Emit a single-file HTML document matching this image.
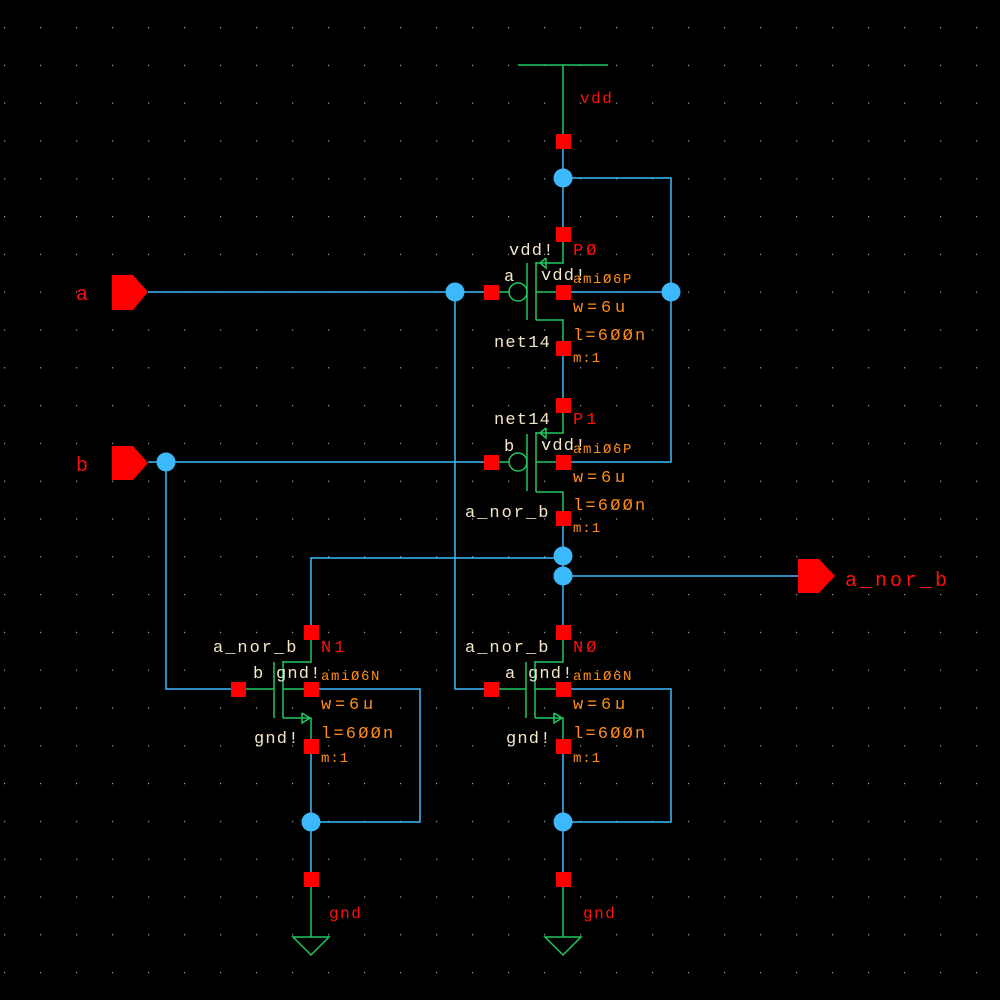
<!DOCTYPE html>
<html><head><meta charset="utf-8"><style>
html,body{margin:0;padding:0;background:#000;}
svg{display:block}
text{font-family:"Liberation Mono",monospace;}
.w{fill:#f5e6c8;font-size:17px;letter-spacing:1.2px}
.o{fill:#ff8c1a}
.r{fill:#ff1010}
</style></head><body>
<svg width="1000" height="1000" viewBox="0 0 1000 1000" xmlns="http://www.w3.org/2000/svg">
<defs>
<pattern id="g" x="4" y="27" width="36" height="37.8" patternUnits="userSpaceOnUse">
<rect x="0" y="0" width="1.2" height="1.2" fill="#9aa0b0"/>
</pattern>
</defs>
<rect width="1000" height="1000" fill="#000"/>
<rect width="1000" height="1000" fill="url(#g)"/>

<!-- blue wires -->
<g stroke="#3cb9fc" stroke-width="1.5" fill="none">
<line x1="563" y1="141" x2="563" y2="234"/>
<polyline points="563,178 671,178 671,462 563,462"/>
<line x1="563" y1="292" x2="671" y2="292"/>
<line x1="563" y1="349" x2="563" y2="405"/>
<line x1="148" y1="292" x2="491" y2="292"/>
<line x1="148" y1="462" x2="491" y2="462"/>
<polyline points="455,292 455,689 491,689"/>
<polyline points="166,462 166,689 238,689"/>
<line x1="563" y1="518" x2="563" y2="632"/>
<polyline points="311,632 311,558 563,558"/>
<line x1="563" y1="576" x2="800" y2="576"/>
<polyline points="311,689 420,689 420,822 311,822"/>
<polyline points="563,689 671,689 671,822 563,822"/>
<line x1="311" y1="746" x2="311" y2="879"/>
<line x1="563" y1="746" x2="563" y2="879"/>
</g>

<!-- green -->
<g stroke="#1fc860" stroke-width="1.5" fill="none">
<line x1="518" y1="65" x2="608" y2="65"/>
<line x1="563" y1="65" x2="563" y2="141"/>
<!-- P0 -->
<polyline points="563,234 563,263 536,263"/>
<line x1="536" y1="262" x2="536" y2="320"/>
<line x1="527" y1="263" x2="527" y2="320"/>
<polyline points="536,320 563,320 563,349"/>
<line x1="536" y1="292" x2="563" y2="292"/>
<line x1="491" y1="292" x2="509" y2="292"/>
<circle cx="518" cy="292" r="9"/>
<polyline points="546,258 540,263 546,268 546,258"/>
<!-- P1 -->
<polyline points="563,405 563,433 536,433"/>
<line x1="536" y1="432" x2="536" y2="492"/>
<line x1="527" y1="434" x2="527" y2="491"/>
<polyline points="536,492 563,492 563,518"/>
<line x1="536" y1="462" x2="563" y2="462"/>
<line x1="491" y1="462" x2="509" y2="462"/>
<circle cx="518" cy="462" r="9"/>
<polyline points="546,428 540,433 546,438 546,428"/>
<!-- N1 -->
<polyline points="311,632 311,662 283,662"/>
<line x1="283" y1="661" x2="283" y2="718"/>
<line x1="274" y1="662" x2="274" y2="718"/>
<polyline points="283,718 311,718 311,746"/>
<line x1="283" y1="689" x2="311" y2="689"/>
<line x1="238" y1="689" x2="274" y2="689"/>
<polyline points="302,713 310,718 302,723 302,713"/>
<!-- N0 -->
<polyline points="563,632 563,662 535,662"/>
<line x1="535" y1="661" x2="535" y2="718"/>
<line x1="526" y1="662" x2="526" y2="718"/>
<polyline points="535,718 563,718 563,746"/>
<line x1="535" y1="689" x2="563" y2="689"/>
<line x1="491" y1="689" x2="526" y2="689"/>
<polyline points="554,713 562,718 554,723 554,713"/>
<!-- gnd -->
<line x1="311" y1="879" x2="311" y2="937"/>
<polygon points="293,937 329,937 311,955"/>
<line x1="563" y1="879" x2="563" y2="937"/>
<polygon points="545,937 581,937 563,955"/>
</g>

<!-- dots -->
<g fill="#3cb9fc">
<circle cx="563" cy="178" r="9.5"/>
<circle cx="671" cy="292" r="9.5"/>
<circle cx="455" cy="292" r="9.5"/>
<circle cx="166" cy="462" r="9.5"/>
<circle cx="563" cy="556" r="9.5"/>
<circle cx="563" cy="576" r="9.5"/>
<circle cx="311" cy="822" r="9.5"/>
<circle cx="563" cy="822" r="9.5"/>
</g>

<!-- red squares -->
<g fill="#ff0000">
<rect x="556" y="134" width="15" height="15"/>
<rect x="556" y="227" width="15" height="15"/>
<rect x="556" y="285" width="15" height="15"/>
<rect x="556" y="341" width="15" height="15"/>
<rect x="484" y="285" width="15" height="15"/>
<rect x="556" y="398" width="15" height="15"/>
<rect x="556" y="455" width="15" height="15"/>
<rect x="556" y="511" width="15" height="15"/>
<rect x="484" y="455" width="15" height="15"/>
<rect x="304" y="625" width="15" height="15"/>
<rect x="304" y="682" width="15" height="15"/>
<rect x="304" y="739" width="15" height="15"/>
<rect x="231" y="682" width="15" height="15"/>
<rect x="556" y="625" width="15" height="15"/>
<rect x="556" y="682" width="15" height="15"/>
<rect x="556" y="739" width="15" height="15"/>
<rect x="484" y="682" width="15" height="15"/>
<rect x="304" y="872" width="15" height="15"/>
<rect x="556" y="872" width="15" height="15"/>
<polygon points="112,275 133,275 148,292 133,310 112,310"/>
<polygon points="112,446 133,446 148,463 133,480 112,480"/>
<polygon points="798,559 819,559 835,576 819,593 798,593"/>
</g>

<!-- pin labels -->
<g class="r" style="font-size:20px;letter-spacing:3px">
<text x="76" y="300">a</text>
<text x="76" y="471">b</text>
<text x="845" y="586">a_nor_b</text>
</g>
<g class="r" style="font-size:16px;letter-spacing:1.5px">
<text x="580" y="103">vdd</text>
<text x="329" y="918">gnd</text>
<text x="583" y="918">gnd</text>
</g>

<!-- P0 -->
<text class="w" x="509" y="255">vdd!</text>
<text class="w" x="504" y="281">a</text>
<text class="w" x="541" y="280">vdd!</text>
<text class="w" x="494" y="347">net14</text>
<text class="r" x="573" y="255" style="font-size:17px;letter-spacing:3px">PØ</text>
<text class="o" x="573" y="283" style="font-size:14px;letter-spacing:1.6px">amiØ6P</text>
<text class="o" x="573" y="312" style="font-size:17px;letter-spacing:3.8px">w=6u</text>
<text class="o" x="573" y="340" style="font-size:17px;letter-spacing:2.2px">l=6ØØn</text>
<text class="o" x="573" y="362" style="font-size:14px;letter-spacing:1px">m:1</text>
<!-- P1 -->
<text class="w" x="494" y="424">net14</text>
<text class="w" x="504" y="451">b</text>
<text class="w" x="541" y="450">vdd!</text>
<text class="w" x="465" y="517" style="letter-spacing:2px">a_nor_b</text>
<text class="r" x="573" y="424" style="font-size:17px;letter-spacing:3px">P1</text>
<text class="o" x="573" y="453" style="font-size:14px;letter-spacing:1.6px">amiØ6P</text>
<text class="o" x="573" y="482" style="font-size:17px;letter-spacing:3.8px">w=6u</text>
<text class="o" x="573" y="510" style="font-size:17px;letter-spacing:2.2px">l=6ØØn</text>
<text class="o" x="573" y="532" style="font-size:14px;letter-spacing:1px">m:1</text>
<!-- N1 -->
<text class="w" x="213" y="652" style="letter-spacing:2px">a_nor_b</text>
<text class="w" x="253" y="678">b</text>
<text class="w" x="276" y="678">gnd!</text>
<text class="w" x="254" y="743">gnd!</text>
<text class="r" x="321" y="652" style="font-size:17px;letter-spacing:3px">N1</text>
<text class="o" x="321" y="680" style="font-size:14px;letter-spacing:1.6px">amiØ6N</text>
<text class="o" x="321" y="709" style="font-size:17px;letter-spacing:3.8px">w=6u</text>
<text class="o" x="321" y="738" style="font-size:17px;letter-spacing:2.2px">l=6ØØn</text>
<text class="o" x="321" y="762" style="font-size:14px;letter-spacing:1px">m:1</text>
<!-- N0 -->
<text class="w" x="465" y="652" style="letter-spacing:2px">a_nor_b</text>
<text class="w" x="505" y="678">a</text>
<text class="w" x="528" y="678">gnd!</text>
<text class="w" x="506" y="743">gnd!</text>
<text class="r" x="573" y="652" style="font-size:17px;letter-spacing:3px">NØ</text>
<text class="o" x="573" y="680" style="font-size:14px;letter-spacing:1.6px">amiØ6N</text>
<text class="o" x="573" y="709" style="font-size:17px;letter-spacing:3.8px">w=6u</text>
<text class="o" x="573" y="738" style="font-size:17px;letter-spacing:2.2px">l=6ØØn</text>
<text class="o" x="573" y="762" style="font-size:14px;letter-spacing:1px">m:1</text>
</svg>
</body></html>
